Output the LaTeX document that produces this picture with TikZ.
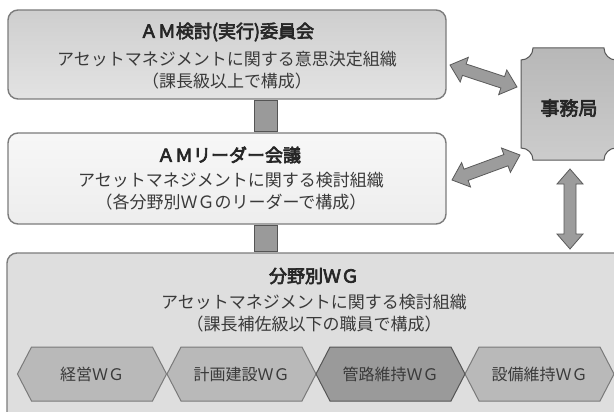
\documentclass[tikz,border=0pt]{standalone}
\usepackage{fontspec}
\newfontfamily\jp{Noto Sans CJK JP}
\newfontfamily\jpb[FakeBold=3.6]{Noto Sans CJK JP}
\usetikzlibrary{calc}
\definecolor{boxline}{HTML}{7C7C7C}
\definecolor{txtdark}{HTML}{262626}
\definecolor{txtbody}{HTML}{3A3A3A}
\definecolor{hexfill}{HTML}{B9B9B9}
\definecolor{hexdark}{HTML}{9A9A9A}
\definecolor{hexline}{HTML}{7A7A7A}
\definecolor{hexdline}{HTML}{555555}
\definecolor{arrfill}{HTML}{9C9C9C}
\definecolor{arrline}{HTML}{5A5A5A}
\newcommand\fatarrow[2]{%
  \draw[fatarrow] (#1)
   -- ($(#1)!15pt!(#2)!13pt!-90:(#2)$)
   -- ($(#1)!15pt!(#2)!6pt!-90:(#2)$)
   -- ($(#2)!15pt!(#1)!6pt!90:(#1)$)
   -- ($(#2)!15pt!(#1)!13pt!90:(#1)$)
   -- (#2)
   -- ($(#2)!15pt!(#1)!13pt!-90:(#1)$)
   -- ($(#2)!15pt!(#1)!6pt!-90:(#1)$)
   -- ($(#1)!15pt!(#2)!6pt!90:(#2)$)
   -- ($(#1)!15pt!(#2)!13pt!90:(#2)$)
   -- cycle;}
\newcommand\hexat[3]{%
  \draw[fill=#2, draw=#3, line width=1pt]
   ([xshift=-74.5pt]#1) -- ([xshift=-60.5pt,yshift=27pt]#1)
   -- ([xshift=60.5pt,yshift=27pt]#1) -- ([xshift=74.5pt]#1)
   -- ([xshift=60.5pt,yshift=-27pt]#1) -- ([xshift=-60.5pt,yshift=-27pt]#1) -- cycle;}
\begin{document}
\begin{tikzpicture}[x=1pt,y=-1pt,
  orgbox/.style={draw=boxline, line width=1.4pt, rounded corners=10pt, inner sep=0pt},
  ttl/.style={font=\jpb\fontsize{18}{20}\selectfont, text=txtdark, inner sep=0pt},
  bodytxt/.style={font=\jp\fontsize{17}{20}\selectfont, text=txtbody, inner sep=0pt},
  hextxt/.style={font=\jp\fontsize{16}{18}\selectfont, text=txtbody, inner sep=0pt},
  bar/.style={fill=hexdark, draw=hexdline, line width=0.8pt},
  fatarrow/.style={fill=arrfill, draw=arrline, line width=0.8pt, line join=miter}]
\fill[white] (0,0) rectangle (614,412);
\useasboundingbox (0,0) rectangle (614,412);

% boxes
\node[orgbox, top color=black!19, bottom color=black!11, minimum width=438pt, minimum height=89pt] (top) at (227,54.5) {};
\node[orgbox, top color=black!3, bottom color=black!7, minimum width=438pt, minimum height=91pt] (mid) at (227,178.5) {};
\node[orgbox, fill=black!13, minimum width=618pt, minimum height=177pt] (wg) at (316,341.5) {};

% connector bars
\coordinate (barL) at (254,0);
\coordinate (barR) at (277,0);
\draw[bar] ([yshift=-0.7pt]barL |- top.south) rectangle ([yshift=0.7pt]barR |- mid.north);
\draw[bar] ([yshift=-0.7pt]barL |- mid.south) rectangle ([yshift=0.7pt]barR |- wg.north);

% texts
\node[ttl] (t1) at (227,32) {ＡＭ検討(実行)委員会};
\node[bodytxt] (t1a) at (227,59) {アセットマネジメントに関する意思決定組織};
\node[bodytxt] (t1b) at (227,81) {（課長級以上で構成）};
\node[ttl] (t2) at (229,155) {ＡＭリーダー会議};
\node[bodytxt] (t2a) at (231,180) {アセットマネジメントに関する検討組織};
\node[bodytxt] (t2b) at (231,202) {（各分野別ＷＧのリーダーで構成）};
\node[ttl] (t3) at (314,276) {分野別ＷＧ};
\node[bodytxt] (t3a) at (314,302) {アセットマネジメントに関する検討組織};
\node[bodytxt] (t3b) at (314,324) {（課長補佐級以下の職員で構成）};

% working groups
\coordinate (c1) at (92,374);
\coordinate (c2) at (241.5,374);
\coordinate (c3) at (390.5,374);
\coordinate (c4) at (539.5,374);
\hexat{c1}{hexfill}{hexline}
\hexat{c2}{hexfill}{hexline}
\hexat{c4}{hexfill}{hexline}
\hexat{c3}{hexdark}{hexdline}
\node[hextxt] (wg1) at (c1) {経営ＷＧ};
\node[hextxt] (wg2) at (c2) {計画建設ＷＧ};
\node[hextxt] (wg3) at (c3) {管路維持ＷＧ};
\node[hextxt] (wg4) at (c4) {設備維持ＷＧ};

% secretariat
\def\jr{12}
\draw[draw=black!65, line width=1pt, top color=black!28, bottom color=black!20]
  (521+\jr,48) -- (616-\jr,48) arc[start angle=180,end angle=90,radius=\jr]
  -- (616,160-\jr) arc[start angle=270,end angle=180,radius=\jr]
  -- (521+\jr,160) arc[start angle=0,end angle=-90,radius=\jr]
  -- (521,48+\jr) arc[start angle=90,end angle=0,radius=\jr] -- cycle;
\node[font=\jpb\fontsize{19}{21}\selectfont, text=txtdark, inner sep=0pt] (jim) at (569,108) {事務局};

% double arrows
\coordinate (a1) at (450,65);
\coordinate (b1) at (517,87);
\coordinate (a2) at (452,180);
\coordinate (b2) at (520,155);
\coordinate (a3) at (570,169);
\coordinate (b3) at (570,249);
\fatarrow{a1}{b1}
\fatarrow{a2}{b2}
\fatarrow{a3}{b3}
\end{tikzpicture}
\end{document}
